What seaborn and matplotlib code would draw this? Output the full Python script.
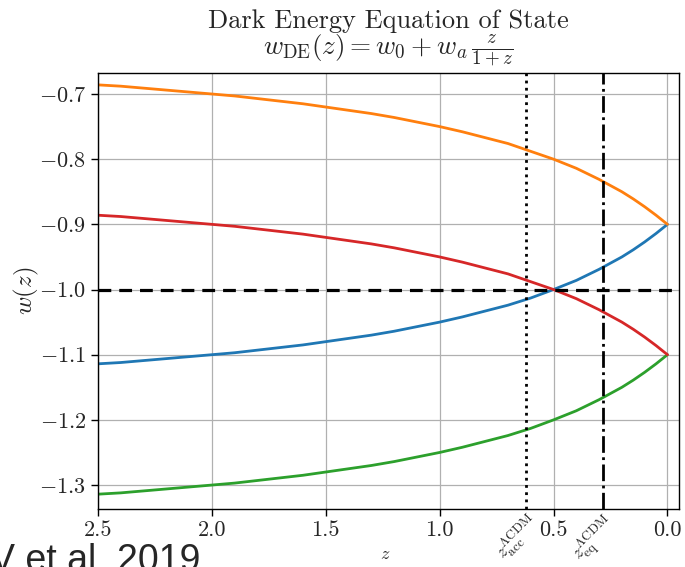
import numpy as np
import pandas as pd
import matplotlib
matplotlib.use("Agg")
import matplotlib.pyplot as plt
import seaborn as sns

# redshift samples
z = [0.0, 0.05, 0.1, 0.15, 0.2, 0.3, 0.4, 0.5, 0.6, 0.7, 0.8, 0.9, 1.0, 1.1, 1.2, 1.3, 1.4, 1.5,
     1.6, 1.7, 1.8, 1.9, 2.0, 2.1, 2.2, 2.3, 2.4, 2.5]
# w(z) values
w_blue   = [-0.900, -0.914, -0.927, -0.939, -0.950, -0.969, -0.986, -1.000, -1.013, -1.024, -1.033, -1.042,
            -1.050, -1.057, -1.064, -1.070, -1.075, -1.080, -1.085, -1.089, -1.093, -1.097, -1.100,
            -1.103, -1.106, -1.109, -1.112, -1.114]
w_orange = [-0.900, -0.886, -0.873, -0.861, -0.850, -0.831, -0.814, -0.800, -0.788, -0.776, -0.767, -0.758,
            -0.750, -0.743, -0.736, -0.730, -0.725, -0.720, -0.715, -0.711, -0.707, -0.703, -0.700,
            -0.697, -0.694, -0.691, -0.688, -0.686]
w_green  = [-1.100, -1.114, -1.127, -1.139, -1.150, -1.169, -1.186, -1.200, -1.213, -1.224, -1.233, -1.242,
            -1.250, -1.257, -1.264, -1.270, -1.275, -1.280, -1.285, -1.289, -1.293, -1.297, -1.300,
            -1.303, -1.306, -1.309, -1.312, -1.314]
w_red    = [-1.100, -1.086, -1.073, -1.061, -1.050, -1.031, -1.014, -1.000, -0.988, -0.976, -0.967, -0.958,
            -0.950, -0.943, -0.936, -0.930, -0.925, -0.920, -0.915, -0.911, -0.907, -0.903, -0.900,
            -0.897, -0.894, -0.891, -0.888, -0.886]
series_names = ["blue", "orange", "green", "red"]
series_colors = ["#1f77b4", "#ff7f0e", "#2ca02c", "#d62728"]

w_lambda = -1.0
z_acc = 0.62
z_eq = 0.285
x_ticks = [2.5, 2.0, 1.5, 1.0, 0.5, 0.0]
y_ticks = [-0.7, -0.8, -0.9, -1.0, -1.1, -1.2, -1.3]

sns.set_style("whitegrid")
plt.rcParams["font.family"] = "serif"
plt.rcParams["font.serif"] = ["cmr10", "DejaVu Serif"]
plt.rcParams["mathtext.fontset"] = "cm"
plt.rcParams["axes.formatter.use_mathtext"] = True
plt.rcParams["axes.unicode_minus"] = True

df = pd.concat([
    pd.DataFrame({"z": z, "w": vals, "model": name})
    for name, vals in zip(series_names, [w_blue, w_orange, w_green, w_red])
])

fig = plt.figure(figsize=(6.85, 5.67), dpi=100)
ax = fig.add_axes([0.143, 0.102, 0.848, 0.769])

sns.lineplot(data=df, x="z", y="w", hue="model", palette=series_colors,
             hue_order=series_names, linewidth=2, legend=False, ax=ax, sort=True)

ax.axhline(w_lambda, color="black", linestyle=(0, (4, 2.5)), linewidth=2.3, zorder=5)
ax.axvline(z_acc, color="black", linestyle=(0, (1, 1.6)), linewidth=2.0, zorder=5)
ax.axvline(z_eq, color="black", linestyle=(0, (6, 1.6, 1, 1.6)), linewidth=2.0, zorder=5)

ax.set_xlim(2.5, -0.05)
ax.set_ylim(-1.337, -0.668)
ax.set_xticks(x_ticks)
ax.set_xticklabels([f"{t:.1f}" for t in x_ticks])
ax.set_yticks(y_ticks)
ax.set_yticklabels([f"$-{abs(t):.1f}$" for t in y_ticks])
ax.set_xticks([z_acc, z_eq], minor=True)
ax.set_xticklabels([r"$z_{\rm acc}^{\Lambda{\rm CDM}}$", r"$z_{\rm eq}^{\Lambda{\rm CDM}}$"],
                   minor=True, rotation=45, ha="right", va="top", rotation_mode="anchor",
                   fontsize=13.5)
ax.tick_params(axis="x", which="minor", length=0, pad=1)
ax.tick_params(axis="both", which="major", labelsize=16, length=5, width=1,
               color="black", direction="out", bottom=True, left=True)

ax.grid(True, which="major", color="#b0b0b0", linewidth=0.9)
ax.grid(False, which="minor")
for s in ax.spines.values():
    s.set_color("black")
    s.set_linewidth(1.0)

ax.set_xlabel("$z$", fontsize=13)
ax.xaxis.set_label_coords(0.494, -0.085)
ax.set_ylabel("$w(z)$", fontsize=18)
ax.yaxis.set_label_coords(-0.098, 0.5)

title_x = 0.143 + 0.848 / 2
fig.text(title_x, 1 - 28 / 567, "Dark Energy Equation of State", fontsize=19,
         ha="center", va="baseline")
fig.text(title_x, 1 - 54 / 567, r"$w_{\rm DE}(z) = w_0 + w_a\,\frac{z}{1+z}$", fontsize=19.5,
         ha="center", va="baseline")

fig.text(-0.015, -0.022, "V et al. 2019", fontsize=27, family="Liberation Sans",
         ha="left", va="bottom")

fig.savefig("out.png", dpi=100)
